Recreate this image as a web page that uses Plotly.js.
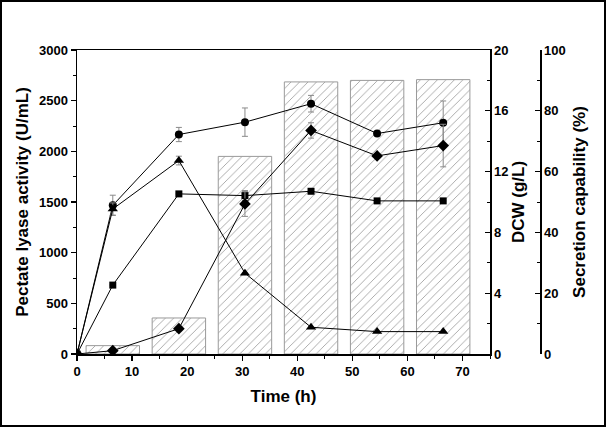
<!DOCTYPE html>
<html>
<head>
<meta charset="utf-8">
<script src="https://cdn.plot.ly/plotly-3.0.1.min.js"></script>
<style>
  html, body { margin: 0; padding: 0; background: #fff; }
  #wrap { position: relative; width: 606px; height: 427px; }
  #chart { width: 606px; height: 427px; }
  #frame { position: absolute; left: 0; top: 0; width: 606px; height: 427px; box-sizing: border-box;
           border: 2px solid #000; pointer-events: none; z-index: 10; }
</style>
</head>
<body>
<div id="wrap"><div id="chart"></div><div id="frame"></div></div>
<script>
// ---- Data ----
const timeH = [0, 6.5, 18.5, 30.5, 42.5, 54.5, 66.5];

const circleVals = [0, 1467, 2166, 2288, 2470, 2176, 2282];
const circleErr  = [0, 100, 70, 140, 82, 0, 215];

const triangleVals = [0, 1431, 1909, 798, 264, 221, 221];
const triangleErr  = [0, 60, 43, 0, 0, 0, 0];

const squareVals = [0, 680, 1580, 1563, 1606, 1511, 1511];
const squareErr  = [0, 0, 0, 50, 0, 0, 0];

const diamondVals = [0, 33, 250, 1481, 2206, 1955, 2057];
const diamondErr  = [0, 0, 0, 123, 76, 0, 210];

const barTimes = [6.5, 18.5, 30.5, 42.5, 54.5, 66.5];
const dcwVals  = [0.55, 2.37, 13.0, 17.9, 18.0, 18.05];

const secretionVals = []; // axis shown without plotted values

const xTicks = [0, 10, 20, 30, 40, 50, 60, 70];

// ---- Styling ----
const FONT = 'Liberation Sans, Arial, Helvetica, sans-serif';
const tickFont = { family: FONT, size: 13, color: '#000', weight: 'bold' };
const titleFont = { family: FONT, size: 17, color: '#000', weight: 'bold' };
const errStyle = (arr) => ({ type: 'data', array: arr, visible: true, color: '#8a8a8a', thickness: 1, width: 3 });

function lineTrace(y, err, symbol, size) {
  return {
    type: 'scatter', mode: 'lines+markers', x: timeH, y: y,
    line: { color: '#000', width: 1 },
    marker: { symbol: symbol, size: size, color: '#000' },
    error_y: errStyle(err),
    cliponaxis: true, showlegend: false, xaxis: 'x', yaxis: 'y2'
  };
}

const traces = [
  {
    type: 'bar', x: barTimes, y: dcwVals, width: 9.7, xaxis: 'x', yaxis: 'y',
    marker: {
      color: '#fff',
      line: { color: '#9a9a9a', width: 1 },
      pattern: { shape: '/', fgcolor: '#8c8c8c', bgcolor: '#fff', size: 6, solidity: 0.12 }
    },
    showlegend: false
  },
  lineTrace(circleVals, circleErr, 'circle', 8),
  lineTrace(triangleVals, triangleErr, 'triangle-up', 9),
  lineTrace(squareVals, squareErr, 'square', 7),
  lineTrace(diamondVals, diamondErr, 'diamond', 9),
  { type: 'scatter', mode: 'markers', x: [], y: secretionVals, xaxis: 'x', yaxis: 'y3', showlegend: false }
];

const W = 606, H = 427;
const ML = 77, MR = 66, MT = 50, MB = 73;
const plotW = W - ML - MR;
const xEndPx = 490;

const axisCommon = {
  showgrid: false, zeroline: false,
  showline: true, linecolor: '#000', linewidth: 1.5,
  ticklen: 5, tickwidth: 1.2, tickcolor: '#000', tickfont: tickFont
};

const layout = {
  width: W, height: H,
  margin: { l: ML, r: MR, t: MT, b: MB, pad: 0 },
  paper_bgcolor: '#fff', plot_bgcolor: 'rgba(0,0,0,0)',
  showlegend: false,
  bargap: 0,
  xaxis: Object.assign({}, axisCommon, {
    domain: [0, (xEndPx - ML) / plotW],
    range: [0, 75], tickvals: xTicks, ticktext: xTicks.map(String),
    mirror: true, ticks: 'outside',
    minor: { dtick: 5, ticks: 'outside', ticklen: 3, tickwidth: 1, tickcolor: '#000', showgrid: false },
    title: { text: 'Time (h)', font: titleFont, standoff: 12 }
  }),
  // DCW axis (base, right side) — bars drawn beneath the overlaid lines
  yaxis: Object.assign({}, axisCommon, {
    side: 'right', anchor: 'x',
    range: [0, 20], dtick: 4, tick0: 0,
    ticks: 'inside',
    minor: { dtick: 2, ticks: 'inside', ticklen: 3, tickwidth: 1, tickcolor: '#000', showgrid: false },
    title: { text: 'DCW (g/L)', font: titleFont, standoff: 4 }
  }),
  // Pectate lyase activity (left)
  yaxis2: Object.assign({}, axisCommon, {
    overlaying: 'y', side: 'left', anchor: 'x',
    range: [0, 3000], dtick: 500, tick0: 0,
    ticks: 'outside',
    minor: { dtick: 250, ticks: 'outside', ticklen: 3, tickwidth: 1, tickcolor: '#000', showgrid: false },
    title: { text: 'Pectate lyase activity (U/mL)', font: titleFont, standoff: 6 }
  }),
  // Secretion capability (outer right)
  yaxis3: Object.assign({}, axisCommon, {
    overlaying: 'y', side: 'right', anchor: 'free', position: 1,
    range: [0, 100], dtick: 20, tick0: 0,
    ticks: 'inside',
    minor: { dtick: 10, ticks: 'inside', ticklen: 3, tickwidth: 1, tickcolor: '#000', showgrid: false },
    title: { text: 'Secretion capability (%)', font: titleFont, standoff: 8 }
  })
};

Plotly.newPlot('chart', traces, layout, { displayModeBar: false, staticPlot: true });
</script>
</body>
</html>
